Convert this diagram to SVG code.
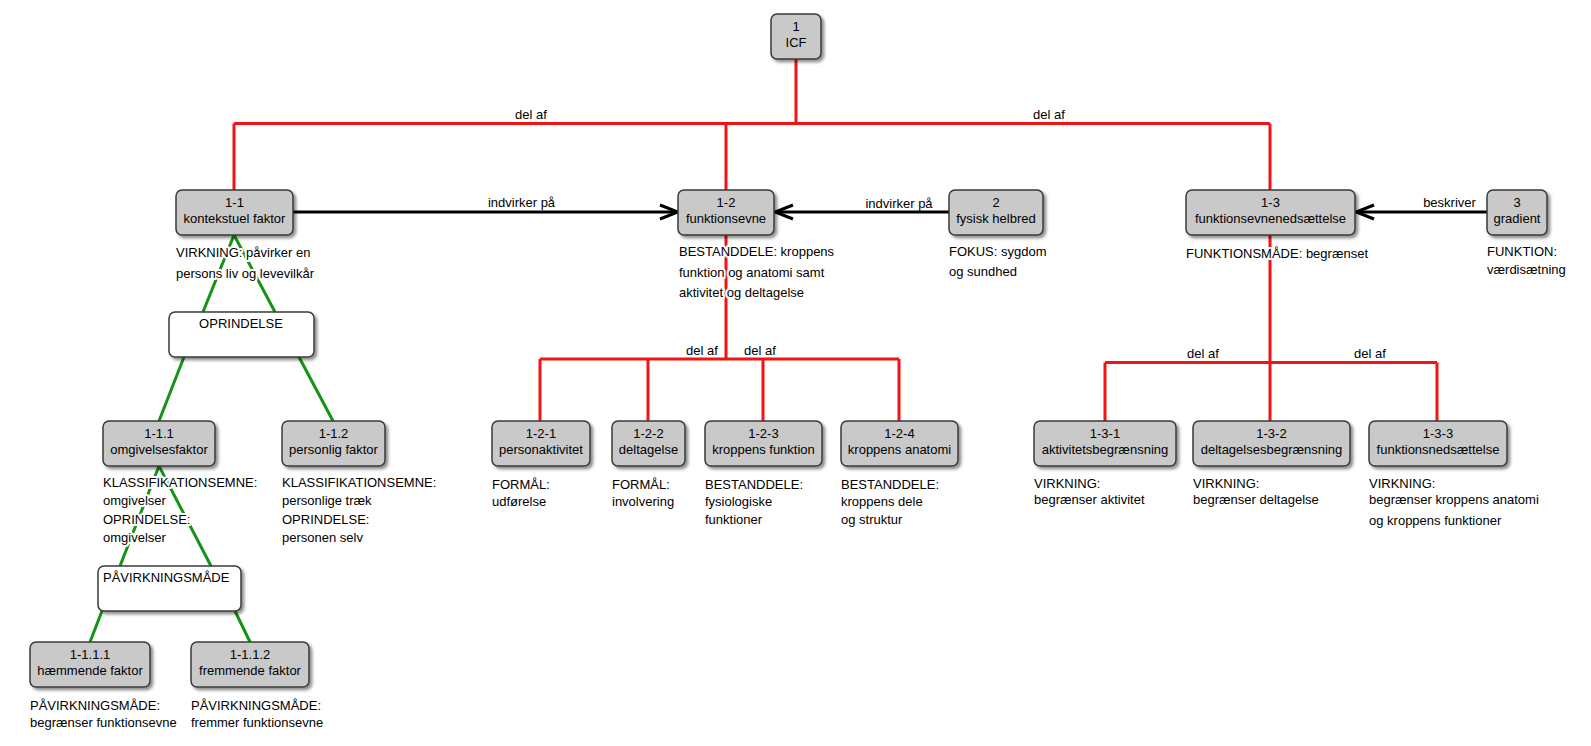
<svg xmlns="http://www.w3.org/2000/svg" width="1591" height="746" viewBox="0 0 1591 746">
<style>
  text { font-family: "Liberation Sans", Arial, sans-serif; font-size: 13px; fill: #000; }
  .box { fill: #c9c9c9; stroke: #3a3a3a; stroke-width: 1.5; filter: url(#sh); }
  .wbox { fill: #fff; stroke: #3a3a3a; stroke-width: 1.5; filter: url(#sh); }
  .c { text-anchor: middle; }
  .ann { paint-order: stroke; stroke: #fff; stroke-width: 4; stroke-linejoin: round; }
  .red { stroke: #f01414; stroke-width: 3; fill: none; }
  .grn { stroke: #149414; stroke-width: 3; fill: none; }
  .blk { stroke: #000; stroke-width: 3; fill: none; marker-end: url(#ah); }
  .lbl { text-anchor: middle; }
</style>
<defs>
  <filter id="sh" x="-10%" y="-20%" width="130%" height="150%">
    <feDropShadow dx="2.5" dy="2.5" stdDeviation="1.5" flood-color="#000" flood-opacity="0.45"/>
  </filter>
  <marker id="ah" markerUnits="userSpaceOnUse" viewBox="0 0 22 18" refX="20" refY="9" markerWidth="22" markerHeight="18" orient="auto">
    <path d="M2,2 L20,9 L2,16" fill="none" stroke="#000" stroke-width="3" stroke-linejoin="miter"/>
  </marker>
</defs>
<rect width="1591" height="746" fill="#fff"/>

<g id="connectors">
  <path class="red" d="M796,59 V123.5 M234,123.5 H1270 M234,123.5 V190 M726,123.5 V190 M1270,123.5 V190"/>
  <path class="red" d="M726,235 V359 M540,359 H899 M540,359 V421 M648,359 V421 M763,359 V421 M899,359 V421"/>
  <path class="red" d="M1270,235 V362.5 M1105,362.5 H1437 M1105,362.5 V421 M1270,362.5 V421 M1437,362.5 V421"/>
  <text class="lbl" x="531" y="119">del af</text>
  <text class="lbl" x="1049" y="119">del af</text>
  <text class="lbl" x="702" y="355">del af</text>
  <text class="lbl" x="760" y="355">del af</text>
  <text class="lbl" x="1203" y="358">del af</text>
  <text class="lbl" x="1370" y="358">del af</text>
  <path class="blk" d="M293,212 H678"/>
  <path class="blk" d="M949,212 H775"/>
  <path class="blk" d="M1487,212 H1356"/>
  <text class="lbl" x="521.5" y="207">indvirker på</text>
  <text class="lbl" x="899" y="207.5">indvirker på</text>
  <text class="lbl" x="1449.5" y="207">beskriver</text>
  <path class="grn" d="M234,235 L203,312 M234,235 L275,312"/>
  <path class="grn" d="M184,357 L159,421 M299,357 L333,421"/>
  <path class="grn" d="M159,466 L120,566 M159,466 L211,566"/>
  <path class="grn" d="M102,611 L90,642 M235,611 L250,642"/>
</g>

<g id="n1">
  <rect class="box" x="771" y="14" width="50" height="45" rx="6"/>
  <text class="c" x="796" y="30.5">1</text>
  <text class="c" x="796" y="47">ICF</text>
</g>

<g id="n1-1">
  <rect class="box" x="176" y="190" width="117" height="45" rx="6"/>
  <text class="c" x="234.5" y="206.5">1-1</text>
  <text class="c" x="234.5" y="223">kontekstuel faktor</text>
  <text class="ann" x="176" y="256.5">VIRKNING: påvirker en</text>
  <text class="ann" x="176" y="278">persons liv og levevilkår</text>
</g>

<g id="n1-2">
  <rect class="box" x="678" y="190" width="96" height="45" rx="6"/>
  <text class="c" x="726" y="206.5">1-2</text>
  <text class="c" x="726" y="223">funktionsevne</text>
  <text class="ann" x="679" y="256">BESTANDDELE: kroppens</text>
  <text class="ann" x="679" y="276.5">funktion og anatomi samt</text>
  <text class="ann" x="679" y="296.5">aktivitet og deltagelse</text>
</g>

<g id="n2">
  <rect class="box" x="949" y="190" width="94" height="45" rx="6"/>
  <text class="c" x="996" y="206.5">2</text>
  <text class="c" x="996" y="223">fysisk helbred</text>
  <text class="ann" x="949" y="256">FOKUS: sygdom</text>
  <text class="ann" x="949" y="275.5">og sundhed</text>
</g>

<g id="n1-3">
  <rect class="box" x="1186" y="190" width="169" height="45" rx="6"/>
  <text class="c" x="1270.5" y="206.5">1-3</text>
  <text class="c" x="1270.5" y="223">funktionsevnenedsættelse</text>
  <text class="ann" x="1186" y="258">FUNKTIONSMÅDE: begrænset</text>
</g>

<g id="n3">
  <rect class="box" x="1487" y="190" width="60" height="45" rx="6"/>
  <text class="c" x="1517" y="206.5">3</text>
  <text class="c" x="1517" y="223">gradient</text>
  <text class="ann" x="1487" y="255.5">FUNKTION:</text>
  <text class="ann" x="1487" y="273.5">værdisætning</text>
</g>

<g id="oprindelse">
  <rect class="wbox" x="169" y="312" width="145" height="45" rx="6"/>
  <text class="c" x="241" y="327.5">OPRINDELSE</text>
</g>

<g id="n1-1.1">
  <rect class="box" x="103" y="421" width="112" height="45" rx="6"/>
  <text class="c" x="159" y="437.5">1-1.1</text>
  <text class="c" x="159" y="454">omgivelsesfaktor</text>
  <text class="ann" x="103" y="486.5">KLASSIFIKATIONSEMNE:</text>
  <text class="ann" x="103" y="504.5">omgivelser</text>
  <text class="ann" x="103" y="523.5">OPRINDELSE:</text>
  <text class="ann" x="103" y="541.5">omgivelser</text>
</g>

<g id="n1-1.2">
  <rect class="box" x="282" y="421" width="103" height="45" rx="6"/>
  <text class="c" x="333.5" y="437.5">1-1.2</text>
  <text class="c" x="333.5" y="454">personlig faktor</text>
  <text class="ann" x="282" y="486.5">KLASSIFIKATIONSEMNE:</text>
  <text class="ann" x="282" y="504.5">personlige træk</text>
  <text class="ann" x="282" y="523.5">OPRINDELSE:</text>
  <text class="ann" x="282" y="541.5">personen selv</text>
</g>

<g id="pavirkningsmade">
  <rect class="wbox" x="98" y="566" width="143" height="45" rx="6"/>
  <text x="103" y="581.5">PÅVIRKNINGSMÅDE</text>
</g>

<g id="n1-1.1.1">
  <rect class="box" x="30" y="642" width="120" height="45" rx="6"/>
  <text class="c" x="90" y="658.5">1-1.1.1</text>
  <text class="c" x="90" y="675">hæmmende faktor</text>
  <text class="ann" x="30" y="709.5">PÅVIRKNINGSMÅDE:</text>
  <text class="ann" x="30" y="726.5">begrænser funktionsevne</text>
</g>

<g id="n1-1.1.2">
  <rect class="box" x="191" y="642" width="118" height="45" rx="6"/>
  <text class="c" x="250" y="658.5">1-1.1.2</text>
  <text class="c" x="250" y="675">fremmende faktor</text>
  <text class="ann" x="191" y="709.5">PÅVIRKNINGSMÅDE:</text>
  <text class="ann" x="191" y="726.5">fremmer funktionsevne</text>
</g>

<g id="n1-2-1">
  <rect class="box" x="492" y="421" width="98" height="45" rx="6"/>
  <text class="c" x="541" y="437.5">1-2-1</text>
  <text class="c" x="541" y="454">personaktivitet</text>
  <text class="ann" x="492" y="488.5">FORMÅL:</text>
  <text class="ann" x="492" y="506">udførelse</text>
</g>

<g id="n1-2-2">
  <rect class="box" x="612" y="421" width="73" height="45" rx="6"/>
  <text class="c" x="648.5" y="437.5">1-2-2</text>
  <text class="c" x="648.5" y="454">deltagelse</text>
  <text class="ann" x="612" y="488.5">FORMÅL:</text>
  <text class="ann" x="612" y="506">involvering</text>
</g>

<g id="n1-2-3">
  <rect class="box" x="705" y="421" width="117" height="45" rx="6"/>
  <text class="c" x="763.5" y="437.5">1-2-3</text>
  <text class="c" x="763.5" y="454">kroppens funktion</text>
  <text class="ann" x="705" y="488.5">BESTANDDELE:</text>
  <text class="ann" x="705" y="506">fysiologiske</text>
  <text class="ann" x="705" y="524">funktioner</text>
</g>

<g id="n1-2-4">
  <rect class="box" x="841" y="421" width="117" height="45" rx="6"/>
  <text class="c" x="899.5" y="437.5">1-2-4</text>
  <text class="c" x="899.5" y="454">kroppens anatomi</text>
  <text class="ann" x="841" y="488.5">BESTANDDELE:</text>
  <text class="ann" x="841" y="506">kroppens dele</text>
  <text class="ann" x="841" y="524">og struktur</text>
</g>

<g id="n1-3-1">
  <rect class="box" x="1034" y="421" width="142" height="45" rx="6"/>
  <text class="c" x="1105" y="437.5">1-3-1</text>
  <text class="c" x="1105" y="454">aktivitetsbegrænsning</text>
  <text class="ann" x="1034" y="487.5">VIRKNING:</text>
  <text class="ann" x="1034" y="504">begrænser aktivitet</text>
</g>

<g id="n1-3-2">
  <rect class="box" x="1193" y="421" width="157" height="45" rx="6"/>
  <text class="c" x="1271.5" y="437.5">1-3-2</text>
  <text class="c" x="1271.5" y="454">deltagelsesbegrænsning</text>
  <text class="ann" x="1193" y="487.5">VIRKNING:</text>
  <text class="ann" x="1193" y="504">begrænser deltagelse</text>
</g>

<g id="n1-3-3">
  <rect class="box" x="1369" y="421" width="138" height="45" rx="6"/>
  <text class="c" x="1438" y="437.5">1-3-3</text>
  <text class="c" x="1438" y="454">funktionsnedsættelse</text>
  <text class="ann" x="1369" y="487.5">VIRKNING:</text>
  <text class="ann" x="1369" y="504">begrænser kroppens anatomi</text>
  <text class="ann" x="1369" y="524.5">og kroppens funktioner</text>
</g>
</svg>
